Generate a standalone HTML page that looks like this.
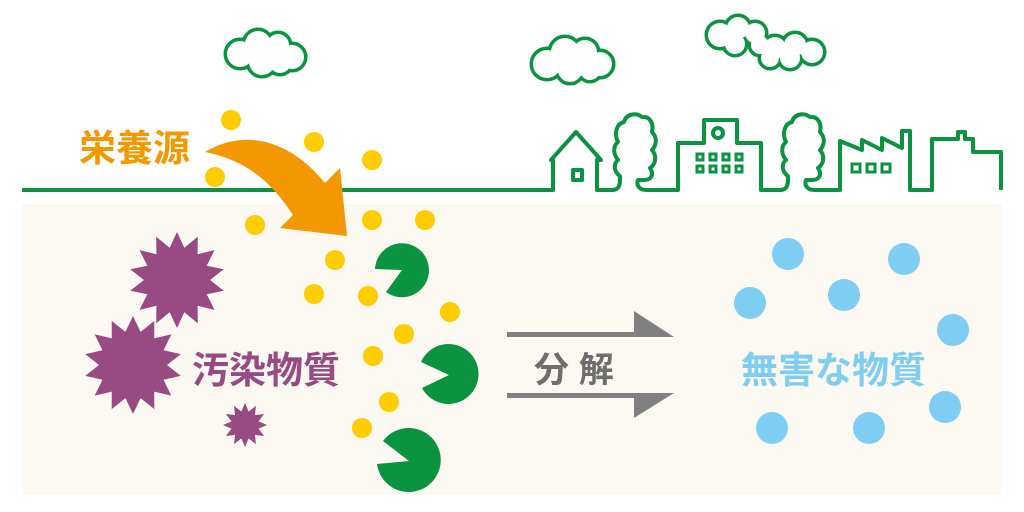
<!DOCTYPE html>
<html><head><meta charset="utf-8"><style>
html,body{margin:0;padding:0;background:#fff;}
svg{display:block;}
text{font-family:"Liberation Sans","Noto Sans CJK JP",sans-serif;font-weight:bold;}
</style></head><body>
<svg width="1024" height="512" viewBox="0 0 1024 512" xmlns="http://www.w3.org/2000/svg">
<rect x="22" y="204" width="980" height="291" fill="#fcf8f2"/>
<!-- clouds -->
<g stroke="#0a9340" stroke-width="7" fill="#0a9340">
 <g><circle cx="240" cy="54" r="13"/><circle cx="258" cy="44" r="13"/><circle cx="278" cy="45" r="11"/><circle cx="292" cy="57" r="12"/><circle cx="262" cy="62" r="13"/><circle cx="280" cy="62" r="11"/><circle cx="266" cy="54" r="12"/></g>
 <g><circle cx="547" cy="64" r="14"/><circle cx="565" cy="52" r="14"/><circle cx="585" cy="52" r="12"/><circle cx="600" cy="64" r="12"/><circle cx="570" cy="70" r="12"/><circle cx="590" cy="70" r="10"/><circle cx="578" cy="62" r="14"/></g>
 <g><circle cx="720" cy="35" r="12"/><circle cx="738" cy="28" r="11"/><circle cx="755" cy="33" r="10"/><circle cx="735" cy="44" r="10"/><circle cx="775" cy="48" r="11"/><circle cx="795" cy="45" r="11"/><circle cx="812" cy="52" r="11"/><circle cx="790" cy="58" r="10"/><circle cx="770" cy="58" r="9"/><circle cx="760" cy="45" r="9"/></g>
</g>
<g fill="#fff">
 <circle cx="240" cy="54" r="13"/><circle cx="258" cy="44" r="13"/><circle cx="278" cy="45" r="11"/><circle cx="292" cy="57" r="12"/><circle cx="262" cy="62" r="13"/><circle cx="280" cy="62" r="11"/><circle cx="266" cy="54" r="12"/>
 <circle cx="547" cy="64" r="14"/><circle cx="565" cy="52" r="14"/><circle cx="585" cy="52" r="12"/><circle cx="600" cy="64" r="12"/><circle cx="570" cy="70" r="12"/><circle cx="590" cy="70" r="10"/><circle cx="578" cy="62" r="14"/>
 <circle cx="720" cy="35" r="12"/><circle cx="738" cy="28" r="11"/><circle cx="755" cy="33" r="10"/><circle cx="735" cy="44" r="10"/><circle cx="775" cy="48" r="11"/><circle cx="795" cy="45" r="11"/><circle cx="812" cy="52" r="11"/><circle cx="790" cy="58" r="10"/><circle cx="770" cy="58" r="9"/><circle cx="760" cy="45" r="9"/>
</g>
<!-- skyline -->
<g fill="none" stroke="#0a9340" stroke-width="4" stroke-linejoin="round">
<path d="M22 190 H553 V160 H551 L576 132 L601 160 H597 V190 H612 C618 190 620 186 620 180 L620 176 C614 172 613 164 618 160 C613 154 613 146 618 142 C614 134 616 124 624 122 C626 114 636 112 642 117 C650 116 654 124 652 132 C658 138 656 146 652 150 C657 156 656 164 650 168 C654 174 652 180 644 180 L638 180 C636 186 640 190 646 190 H678 V143 H704 V120 H737 V143 H761 V190 H780 C786 190 788 186 788 180 L788 176 C782 172 781 164 786 160 C781 154 781 146 786 142 C782 134 784 124 792 122 C794 114 804 112 810 117 C818 116 822 124 820 132 C826 138 824 146 820 150 C825 156 824 164 818 168 C822 174 820 180 812 180 L806 180 C804 186 808 190 814 190 H840 V141 L862 150 V140 L882 150 V138 L902 148 V131 H910 V190 H932 V139 H958 V132 H965 V139 H973 V152 H1001 V190"/>
<rect x="573" y="170" width="9" height="10"/>
<circle cx="718" cy="133" r="5"/>
</g>
<g fill="none" stroke="#0a9340" stroke-width="3">
<rect x="697" y="154" width="6" height="6"/><rect x="710" y="154" width="6" height="6"/><rect x="723" y="154" width="6" height="6"/><rect x="736" y="154" width="6" height="6"/>
<rect x="697" y="166" width="6" height="6"/><rect x="710" y="166" width="6" height="6"/><rect x="723" y="166" width="6" height="6"/><rect x="736" y="166" width="6" height="6"/>
<rect x="852" y="164" width="8" height="8"/><rect x="867" y="164" width="8" height="8"/><rect x="882" y="164" width="8" height="8"/>
</g>
<!-- yellow dots -->
<g fill="#ffcc00">
<circle cx="231" cy="120" r="10"/><circle cx="314" cy="142" r="10"/><circle cx="372" cy="160" r="10"/><circle cx="215" cy="177" r="10"/>
<circle cx="255" cy="225" r="10"/><circle cx="372" cy="220" r="10"/><circle cx="425" cy="220" r="10"/><circle cx="335" cy="260" r="10"/>
<circle cx="368" cy="296" r="10"/><circle cx="314" cy="294" r="10"/><circle cx="450" cy="312" r="10"/><circle cx="404" cy="334" r="10"/>
<circle cx="373" cy="356" r="10"/><circle cx="389" cy="402" r="10"/><circle cx="362" cy="428" r="10"/>
</g>
<!-- orange arrow -->
<path d="M205 152 C245 128 290 140 325 183 L340 168 L347 236 L280 228 L293 215 C270 180 245 160 205 152 Z" fill="#f39800"/>
<text x="79" y="161" font-size="37" fill="#f39800">栄養源</text>
<!-- pacmen -->
<g fill="#0a9340">
<path d="M402 270 L375 269 A27 27 0 1 1 386 292 Z"/>
<path d="M449 375 L421 362 A30 30 0 1 1 422 388 Z"/>
<path d="M409 461 L383 441 A32 32 0 1 1 377 464 Z"/>
</g>
<!-- purple stars -->
<g fill="#984a82">
<polygon id="s1" points=""/>
</g>
<script>
function star(cx,cy,R,r,n){let p=[];for(let i=0;i<2*n;i++){let a=Math.PI*i/n-Math.PI/2;let rr=i%2?r:R;p.push((cx+rr*Math.cos(a)).toFixed(1)+','+(cy+rr*Math.sin(a)).toFixed(1));}return p.join(' ');}
const g=document.querySelector('#s1').parentNode;
[[177,280,48,33,14],[133,365,49,34,14],[245,425,22,14,12]].forEach(s=>{const el=document.createElementNS('http://www.w3.org/2000/svg','polygon');el.setAttribute('points',star(...s));g.appendChild(el);});
</script>
<text x="192" y="383" font-size="37" fill="#984a82">汚染物質</text>
<!-- gray arrows -->
<g fill="#808080">
<polygon points="507,332 634,332 634,311 674,337 507,337"/>
<polygon points="507,393 674,393 634,418 634,398 507,398"/>
</g>
<text x="534" y="382" font-size="35" fill="#6e6e6e">分 解</text>
<!-- blue dots -->
<g fill="#7ecef4">
<circle cx="788" cy="254" r="16"/><circle cx="904" cy="259" r="16"/><circle cx="750" cy="303" r="16"/><circle cx="844" cy="295" r="16"/>
<circle cx="953" cy="330" r="16"/><circle cx="945" cy="407" r="16"/><circle cx="772" cy="428" r="16"/><circle cx="869" cy="428" r="16"/>
</g>
<text x="741" y="383" font-size="37" fill="#7ecef4">無害な物質</text>
</svg>
</body></html>
